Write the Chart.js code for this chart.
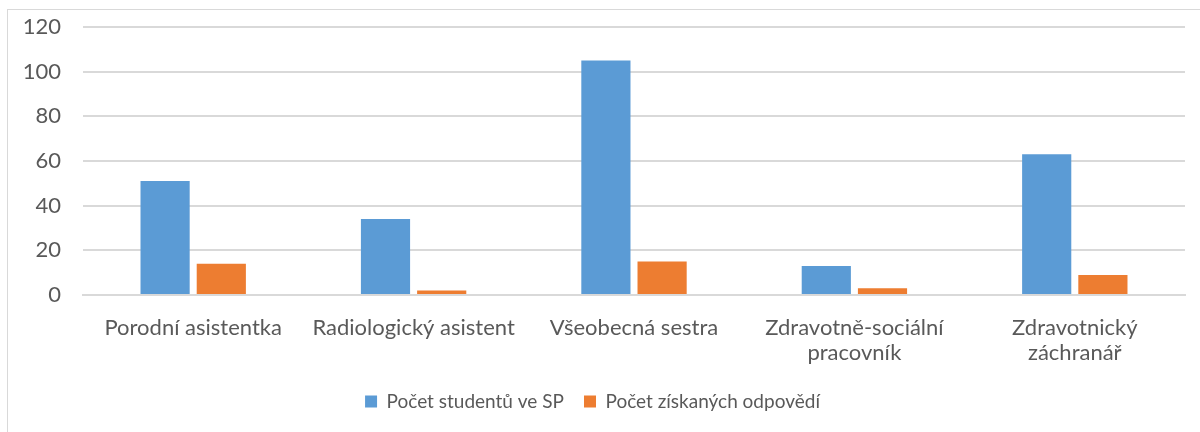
<!DOCTYPE html>
<html>
<head>
<meta charset="utf-8">
<script src="https://cdn.jsdelivr.net/npm/chart.js@4"></script>
<style>
body{margin:0;background:#fff;}
#wrap{position:relative;width:1200px;height:432px;}
#frame{position:absolute;left:7px;top:9px;width:1200px;height:440px;border:1px solid #d9d9d9;box-sizing:border-box;}
canvas{position:absolute;left:0;top:0;}
</style>
</head>
<body>
<div id="wrap">
<div id="frame"></div>
<canvas id="chart" width="1200" height="432"></canvas>
</div>
<script>

const categories=[
"Porodní asistentka",
"Radiologický asistent",
"Všeobecná sestra",
["Zdravotně-sociální","pracovník"],
["Zdravotnický","záchranář"]
];

const students=[51,34,105,13,63];

const answers=[14,2,15,3,9];

const seriesNames=["Počet studentů ve SP","Počet získaných odpovědí"];

const font="Lato, 'Open Sans', sans-serif";

new Chart(document.getElementById("chart"),{
type:"bar",
data:{
labels:categories,
datasets:[{
label:seriesNames[0],
data:students,
backgroundColor:"#5B9BD5",
categoryPercentage:0.51,
barPercentage:0.875
},{
label:seriesNames[1],
data:answers,
backgroundColor:"#ED7D31",
categoryPercentage:0.51,
barPercentage:0.875
}]
},
options:{
responsive:false,
animation:false,
layout:{padding:{left:0,right:15,top:27,bottom:11}},
scales:{
x:{
grid:{display:false,drawTicks:false},
border:{display:true,color:"#d9d9d9",width:2},
ticks:{color:"#595959",font:{family:font,size:22,lineHeight:1.14},padding:20,maxRotation:0,autoSkip:false},
afterFit(scale){scale.height=77;}
},
y:{
min:0,
max:120,
grid:{color:"#d9d9d9",lineWidth:2,drawTicks:false},
border:{display:false},
ticks:{stepSize:20,color:"#595959",font:{family:font,size:22},padding:22},
afterFit(scale){
scale.width=83;
scale.paddingTop=0;
scale.paddingBottom=0;
}
}
},
plugins:{
legend:{
position:"bottom",
labels:{color:"#595959",font:{family:font,size:19},boxWidth:12,boxHeight:12,padding:20}
},
tooltip:{enabled:false}
}
}
});

</script>
</body>
</html>
